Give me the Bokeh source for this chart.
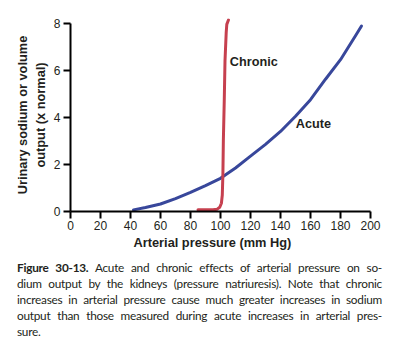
from bokeh.plotting import figure
from bokeh.models import Range1d, FixedTicker, Title, Div, ColumnDataSource
from bokeh.layouts import column
from bokeh.core.properties import value
from bokeh.embed import file_html
from bokeh.resources import INLINE

# Arterial pressure (mm Hg) vs urinary sodium output (x normal)
acute_pressure = [42, 50, 60, 70, 80, 90, 100, 110, 120, 130, 140, 150, 160, 170, 180, 190, 194]
acute_output = [0.07, 0.17, 0.32, 0.55, 0.81, 1.10, 1.41, 1.85, 2.35, 2.85, 3.40, 4.05, 4.75, 5.62, 6.45, 7.47, 7.88]

chronic_pressure = [85, 95, 97.8, 99.5, 100.6, 101.2, 101.6, 101.9, 102.5, 103.0, 103.8, 104.2, 105.3]
chronic_output = [0.07, 0.07, 0.10, 0.18, 0.35, 0.70, 1.60, 3.00, 4.70, 6.40, 7.60, 7.95, 8.14]

x_ticks = [0, 20, 40, 60, 80, 100, 120, 140, 160, 180, 200]
y_ticks = [0, 2, 4, 6, 8]

series_labels = ["Chronic", "Acute"]
label_x = [106.2, 150.2]
label_y = [6.36, 3.70]

caption_lines = [
    "<b>Figure 30-13.</b> Acute and chronic effects of arterial pressure on so-",
    "dium output by the kidneys (pressure natriuresis). Note that chronic",
    "increases in arterial pressure cause much greater increases in sodium",
    "output than those measured during acute increases in arterial pres-",
    "sure.",
]

FONT = "Liberation Sans"
INK = "#231f20"
BLUE = "#38479b"
RED = "#c6404f"

p = figure(
    width=393, height=252,
    x_range=Range1d(0, 200), y_range=Range1d(0, 8.2),
    min_border_left=70, min_border_right=23, min_border_top=18, min_border_bottom=41,
    output_backend="svg", toolbar_location=None,
)
p.outline_line_color = None
p.grid.visible = False
p.background_fill_color = "white"
p.border_fill_color = "white"

p.line(acute_pressure, acute_output, line_color=BLUE, line_width=3, line_cap="round", line_join="round")
p.line(chronic_pressure, chronic_output, line_color=RED, line_width=3, line_cap="round", line_join="round")

src = ColumnDataSource(dict(x=label_x, y=label_y, t=series_labels))
p.text("x", "y", text="t", source=src, text_font=value(FONT), text_font_style="bold",
       text_font_size="12.7px", text_baseline="middle", text_align="left", text_color=INK)

for ax in (p.xaxis[0], p.yaxis[0]):
    ax.axis_line_width = 2
    ax.axis_line_color = "black"
    ax.major_tick_line_width = 2
    ax.major_tick_line_color = "black"
    ax.major_tick_out = 7
    ax.major_tick_in = 0
    ax.minor_tick_line_color = None
    ax.major_label_text_font = FONT
    ax.major_label_text_font_size = "12px"
    ax.major_label_text_color = INK

p.xaxis.ticker = FixedTicker(ticks=x_ticks)
p.yaxis.ticker = FixedTicker(ticks=y_ticks)
p.xaxis.bounds = (0, 200)
p.yaxis.bounds = (0, 8)
p.xaxis.major_label_standoff = 2
p.yaxis.major_label_standoff = 3

p.yaxis.axis_label = "Urinary sodium or volume\noutput (x normal)"
p.yaxis.axis_label_text_font = FONT
p.yaxis.axis_label_text_font_style = "bold"
p.yaxis.axis_label_text_font_size = "12.8px"
p.yaxis.axis_label_text_color = INK
p.yaxis.axis_label_standoff = 3

xtitle = Title(text="Arterial pressure (mm Hg)", align="left", offset=63, standoff=0,
               text_font=FONT, text_font_style="bold", text_font_size="12.8px", text_color=INK)
p.add_layout(xtitle, "below")

line_html = []
for i, ln in enumerate(caption_lines):
    last = i == len(caption_lines) - 1
    style = "text-align:left;" if last else "text-align:justify;text-align-last:justify;"
    line_html.append(f'<div style="{style}">{ln}</div>')

caption = Div(
    text=(
        '<div style="font-family:Lato;font-size:11.8px;letter-spacing:-0.25px;line-height:16px;'
        'color:#231f20;width:377px;padding:3px 0 0 12px;">' + "".join(line_html) + "</div>"
    ),
    width=393, height=96,
)

layout = column(p, caption, spacing=0)

open("out.html", "w").write(file_html(layout, INLINE))
